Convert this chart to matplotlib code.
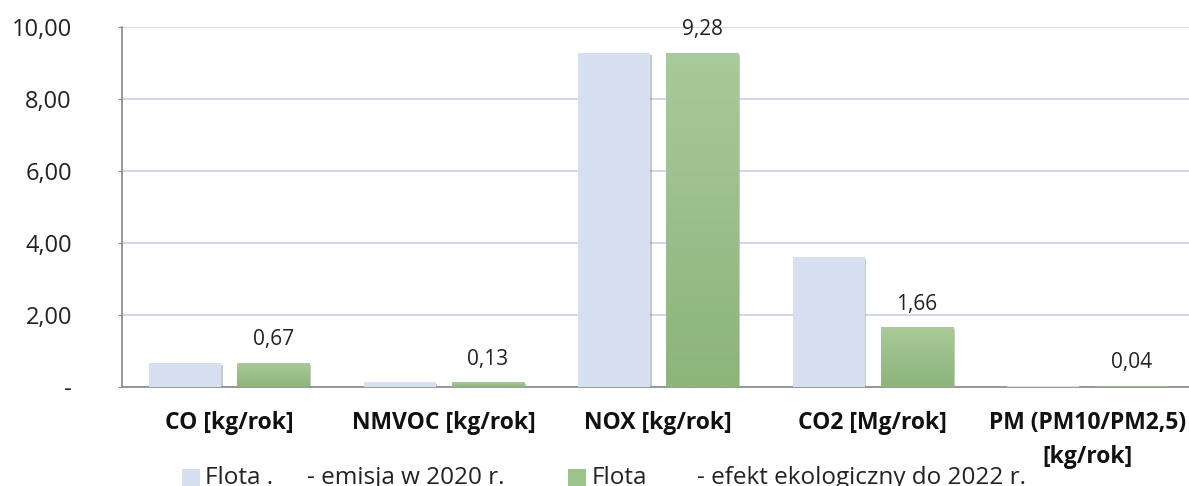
import matplotlib
matplotlib.use("Agg")
import matplotlib.pyplot as plt
import matplotlib.patheffects as pe
from matplotlib.patches import Rectangle
from matplotlib.colors import LinearSegmentedColormap
import numpy as np

categories = ["CO [kg/rok]", "NMVOC [kg/rok]", "NOX [kg/rok]", "CO2 [Mg/rok]", "PM (PM10/PM2,5)\n[kg/rok]"]
emisja_2020 = [0.67, 0.13, 9.28, 3.61, 0.03]
efekt_2022 = [0.67, 0.13, 9.28, 1.66, 0.04]
series_prefix = ["Flota .", "Flota"]
series_names = ["- emisja w 2020 r.", "- efekt ekologiczny do 2022 r."]
yticks = [0, 2, 4, 6, 8, 10]
ytick_labels = ["-", "2,00", "4,00", "6,00", "8,00", "10,00"]

plt.rcParams['font.family'] = ['Open Sans', 'DejaVu Sans']

fig = plt.figure(figsize=(11.89, 4.86), dpi=100)
ax = fig.add_axes([0.1026, 0.2037, 0.902, 0.7407])

x = np.arange(len(categories))
w = 0.336
off = 0.206
blue = "#d6e0f1"
green = "#9cc48b"
shadow = [pe.SimplePatchShadow(offset=(1.2, -1.2), shadow_rgbFace="#888888", alpha=0.45), pe.Normal()]

b1 = ax.bar(x - off, emisja_2020, w, color=blue, zorder=3, path_effects=shadow)
b2 = ax.bar(x + off, efekt_2022, w, color=green, zorder=3, path_effects=shadow)

# vertical gradient on green bars
grad = np.linspace(0, 1, 256).reshape(-1, 1)
gcmap = LinearSegmentedColormap.from_list("g", ["#8db47b", "#a9ca9a"])
for bar in b2:
    bx, by = bar.get_x(), bar.get_y()
    bw, bh = bar.get_width(), bar.get_height()
    im = ax.imshow(grad, extent=[bx, bx + bw, by, by + bh], origin="lower", cmap=gcmap,
                   aspect="auto", zorder=4)
    im.set_clip_path(bar)

for xi, v in zip(x + off, efekt_2022):
    ax.annotate(f"{v:.2f}".replace(".", ","), (xi, v), xytext=(0, 9), textcoords="offset points",
                ha="center", va="bottom", fontsize=15, color="#222222")

ax.set_xlim(-0.5, len(categories) - 0.5)
ax.set_ylim(0, 10)
ax.set_yticks(yticks)
ax.set_yticklabels(ytick_labels, fontsize=17, color="#222222")
ax.yaxis.grid(True, color="#c9d0ef", linewidth=1.2, zorder=0)
ax.set_axisbelow(True)
ax.tick_params(axis="y", length=3, color="#888888", pad=33)
ax.set_xticks(x)
ax.set_xticklabels(categories, fontsize=16.5, fontweight="bold", color="#111111", linespacing=1.6)
ax.tick_params(axis="x", length=0, pad=17)
for s in ["top", "right"]:
    ax.spines[s].set_visible(False)
ax.spines["left"].set_color("#888888")
ax.spines["bottom"].set_color("#888888")
ax.spines["left"].set_linewidth(1.2)
ax.spines["bottom"].set_linewidth(1.2)

# legend (partly cut by the bottom edge, as in the reference)
H = 486.0
Wd = 1189.0
legend_layout = [(182, 205, 307, blue), (568, 592, 697, green)]
for (sx, tx1, tx2, col), pre, name in zip(legend_layout, series_prefix, series_names):
    fig.patches.append(Rectangle((sx / Wd, 0), 18 / Wd, 17 / H, transform=fig.transFigure,
                                 facecolor=col, edgecolor="none"))
    fig.text(tx1 / Wd, 1 - 484 / H, pre, fontsize=17.5, color="#222222", ha="left", va="baseline")
    fig.text(tx2 / Wd, 1 - 484 / H, name, fontsize=17.5, color="#222222", ha="left", va="baseline")

fig.savefig("out.png", dpi=100, facecolor="white")
